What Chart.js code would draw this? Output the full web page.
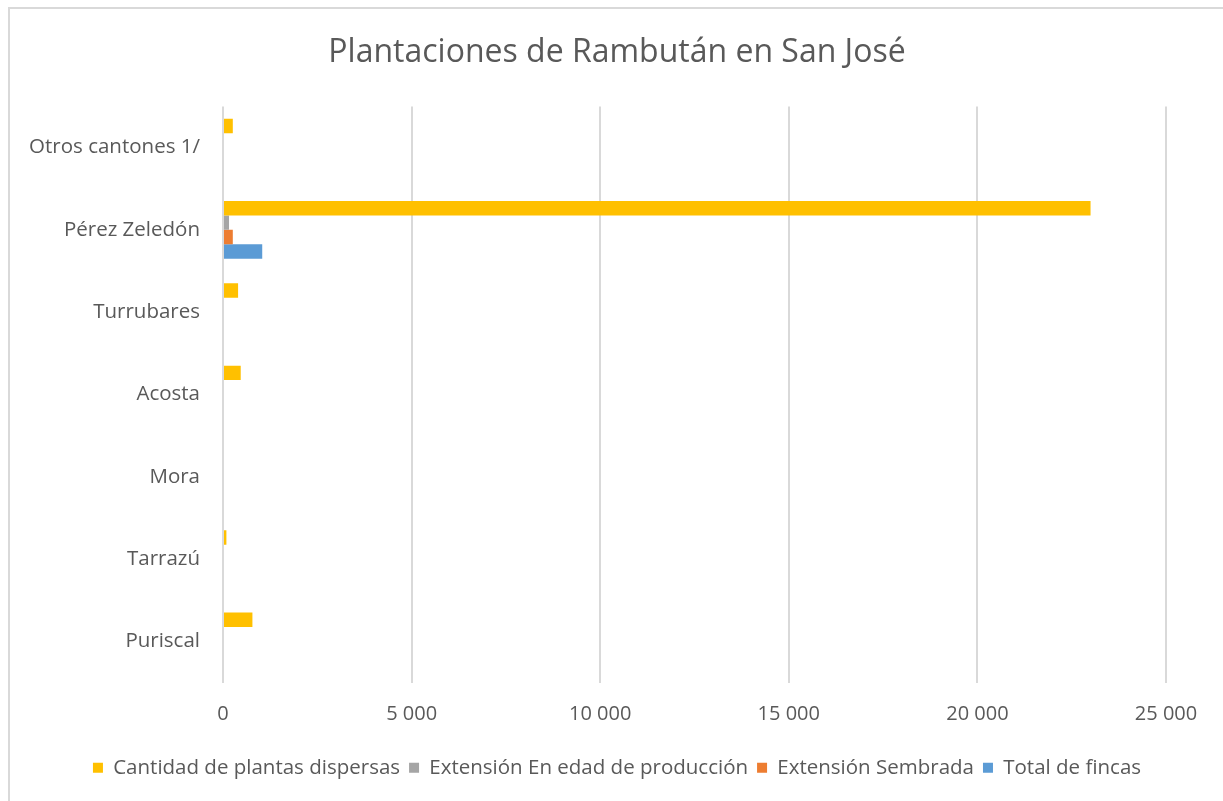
<!DOCTYPE html>
<html>
<head>
<meta charset="utf-8">
<title>Plantaciones de Rambután en San José</title>
<script src="https://cdn.jsdelivr.net/npm/chart.js@4/dist/chart.umd.min.js"></script>
<style>
  html, body { margin: 0; padding: 0; background: #fff; overflow: hidden; }
  .frame { position: absolute; left: 8px; top: 7px; width: 1400px; height: 1000px; border: 2px solid #d9d9d9; }
  .chart-box { position: absolute; left: 0; top: 0; width: 1223px; height: 801px; }
</style>
</head>
<body>
<div class="frame"></div>
<div class="chart-box"><canvas id="chart"></canvas></div>
<script>
// cantones, top to bottom as in the picture
const cantones = ['Otros cantones 1/', 'Pérez Zeledón', 'Turrubares', 'Acosta', 'Mora', 'Tarrazú', 'Puriscal'];

const plantasDispersas = [260, 23000, 400, 470, 0, 90, 780];
const extensionProduccion = [0, 160, 0, 0, 0, 0, 0];
const extensionSembrada = [0, 260, 0, 0, 0, 0, 0];
const totalFincas = [0, 1040, 0, 0, 0, 0, 0];

const xTicks = [0, 5000, 10000, 15000, 20000, 25000];

const textColor = '#595959';
const fontFamily = '"Open Sans", Lato, sans-serif';

// "10 000" style numbers
const formatNumber = (v) => String(v).replace(/\B(?=(\d{3})+(?!\d))/g, ' ');

const ctx = document.getElementById('chart').getContext('2d');
new Chart(ctx, {
    type: 'bar',
    data: {
        labels: cantones,
        datasets: [
            { label: 'Cantidad de plantas dispersas', data: plantasDispersas, backgroundColor: '#FFC000' },
            { label: 'Extensión En edad de producción', data: extensionProduccion, backgroundColor: '#A5A5A5' },
            { label: 'Extensión Sembrada', data: extensionSembrada, backgroundColor: '#ED7D31' },
            { label: 'Total de fincas', data: totalFincas, backgroundColor: '#5B9BD5' }
        ]
    },
    options: {
        indexAxis: 'y',
        responsive: true,
        maintainAspectRatio: false,
        animation: false,
        categoryPercentage: 0.7,
        barPercentage: 1.0,
        layout: { padding: { left: 11, right: 0, top: 0, bottom: 13 } },
        scales: {
            x: {
                min: xTicks[0],
                max: xTicks[xTicks.length - 1],
                afterBuildTicks: (scale) => { scale.ticks = xTicks.map(v => ({ value: v })); },
                grid: { color: '#d9d9d9', lineWidth: 2, drawTicks: false },
                border: { display: false },
                ticks: {
                    color: textColor,
                    font: { family: fontFamily, size: 20 },
                    padding: 20,
                    maxRotation: 0,
                    callback: (v) => formatNumber(v)
                },
                afterFit: (scale) => { scale.height = 66; }
            },
            y: {
                grid: { display: false, drawTicks: false },
                border: { display: false },
                ticks: {
                    color: textColor,
                    font: { family: fontFamily, size: 20.5 },
                    padding: 23
                },
                afterFit: (scale) => { scale.width = 212; }
            },
            // empty right strip so the plot ends at 25 000 while title/legend stay centred
            yRight: {
                position: 'right',
                grid: { display: false, drawTicks: false },
                border: { display: false },
                ticks: { display: false },
                afterFit: (scale) => { scale.width = 57; }
            }
        },
        plugins: {
            title: {
                display: true,
                text: 'Plantaciones de Rambután en San José',
                color: textColor,
                font: { family: fontFamily, size: 32, weight: 'normal' },
                padding: { top: 34, bottom: 34 }
            },
            legend: {
                position: 'bottom',
                labels: {
                    color: textColor,
                    font: { family: fontFamily, size: 20.5 },
                    boxWidth: 10,
                    boxHeight: 10,
                    padding: 9
                }
            },
            tooltip: { enabled: false }
        }
    }
});
</script>
</body>
</html>
